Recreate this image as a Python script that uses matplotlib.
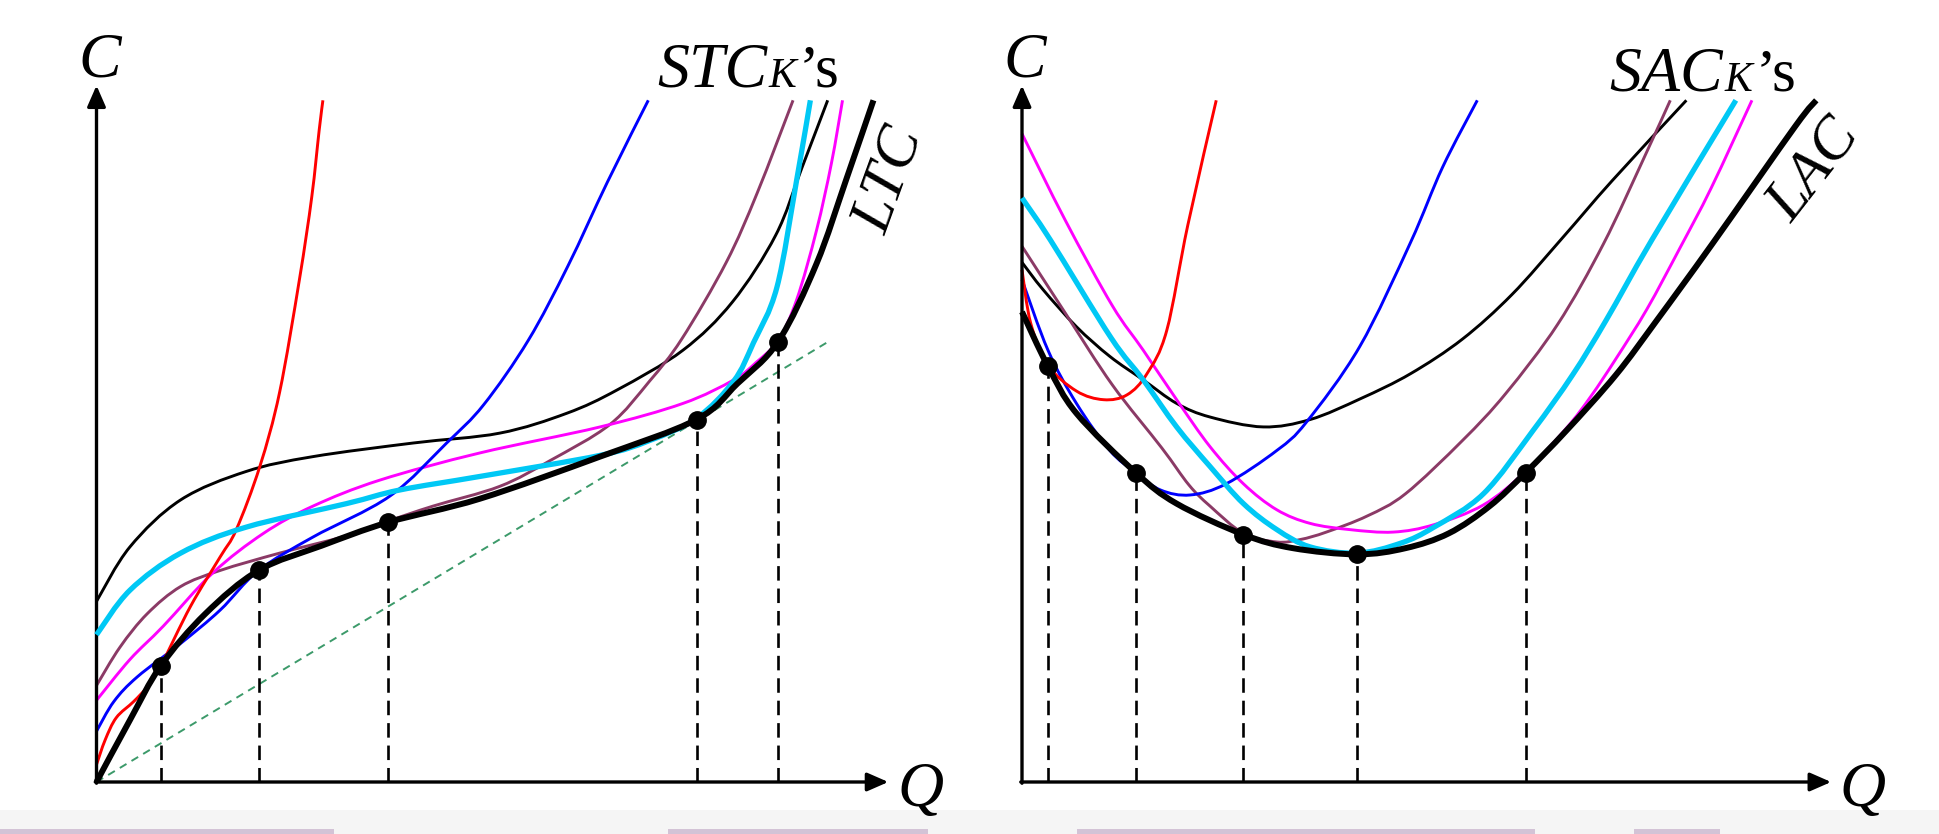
import numpy as np
import matplotlib
matplotlib.use('Agg')
import matplotlib.pyplot as plt
from matplotlib.path import Path
from matplotlib.patches import PathPatch, Rectangle

# ---- data (Q, C) ----
# left panel: short-run total cost curves and the long-run envelope
ltc_q = [0, 2.7, 5.2, 8.8, 13.1, 18.2, 23.6, 31.0, 40.7, 48.5, 51.8, 55.1, 58.2, 60.6, 62.8]
ltc_c = [0, 5.0, 9.4, 13.6, 17.1, 19.1, 21.0, 22.9, 26.3, 29.3, 32.2, 35.6, 41.9, 48.7, 55.1]

stc_red_q = [0, 0.7, 1.6, 3.0, 4.1, 5.2, 7.6, 10.0, 11.3, 13.2, 14.8, 16.4, 17.4, 18.0, 18.3]
stc_red_c = [1.4, 3.4, 5.2, 6.5, 7.7, 9.4, 14.2, 18.2, 20.4, 25.5, 31.5, 40.6, 47.3, 52.7, 55.1]

stc_blue_q = [0, 1.4, 3.3, 6.8, 10.0, 13.1, 17.5, 23.7, 28.3, 31.3, 34.9, 38.1, 41.3, 44.6]
stc_blue_c = [4.1, 6.5, 8.5, 11.2, 13.9, 17.1, 19.8, 23.1, 27.4, 30.5, 35.7, 41.7, 48.5, 55.1]

stc_purple_q = [0, 1.9, 4.1, 6.8, 10.0, 14.8, 20.2, 23.6, 27.2, 32.6, 36.7, 41.5, 44.7, 47.3, 50.9, 53.4, 56.3]
stc_purple_c = [7.8, 10.9, 13.6, 15.8, 17.1, 18.5, 19.9, 21.1, 22.3, 23.9, 26.0, 28.9, 32.4, 35.8, 42.0, 47.6, 55.1]

stc_magenta_q = [0, 2.7, 5.4, 9.4, 13.5, 17.5, 22.9, 31.0, 40.7, 47.4, 51.5, 53.3, 55.1, 56.6, 58.2, 59.4, 60.3]
stc_magenta_c = [6.6, 9.9, 12.6, 16.9, 20.1, 22.3, 24.4, 26.6, 28.7, 30.6, 32.5, 33.9, 35.7, 39.0, 44.6, 50.0, 55.1]

stc_cyan_q = [0, 2.7, 6.8, 12.1, 20.2, 24.5, 31.0, 40.7, 44.7, 48.5, 51.5, 53.1, 55.0, 56.6, 57.7]
stc_cyan_c = [11.9, 15.5, 18.5, 20.6, 22.5, 23.6, 24.7, 26.4, 27.6, 29.4, 32.4, 35.5, 40.0, 48.7, 55.1]

stc_black_q = [0, 2.7, 6.8, 12.1, 17.5, 25.6, 32.6, 38.0, 42.1, 47.4, 51.4, 54.9, 57.0, 59.1]
stc_black_c = [14.6, 19.0, 22.8, 25.1, 26.3, 27.4, 28.2, 29.8, 31.7, 34.9, 38.8, 44.2, 49.6, 55.1]

ray_q = [0, 59.0]
ray_c = [0, 35.5]

ltc_dot_q = [5.2, 13.1, 23.6, 48.5, 55.1]
ltc_dot_c = [9.4, 17.1, 21.0, 29.3, 35.6]

# right panel: short-run average cost curves and the long-run envelope
lac_q = [0, 2.1, 4.4, 9.2, 12.5, 17.9, 21.9, 27.1, 31.0, 34.5, 37.8, 40.7, 44.0, 48.0, 51.3, 55.8, 62.5, 64.2]
lac_c = [38.0, 33.6, 29.8, 25.0, 22.5, 20.0, 18.9, 18.4, 18.9, 20.1, 22.3, 25.0, 28.4, 32.9, 37.3, 43.5, 53.0, 55.1]

sac_red_q = [0, 0.7, 2.1, 4.4, 6.6, 8.5, 10.1, 11.7, 13.4, 15.7]
sac_red_c = [41.4, 37.1, 33.7, 31.6, 30.9, 31.3, 33.0, 36.5, 45.0, 55.1]

sac_blue_q = [0, 2.1, 4.4, 7.1, 9.2, 11.2, 13.6, 16.5, 20.6, 23.0, 27.3, 31.4, 34.0, 36.8]
sac_blue_c = [40.6, 34.9, 30.6, 26.8, 25.0, 23.6, 23.2, 24.1, 26.8, 29.1, 35.2, 43.6, 49.7, 55.1]

sac_purple_q = [0, 3.5, 7.3, 11.3, 13.5, 15.2, 17.9, 20.6, 22.5, 24.6, 27.9, 31.0, 35.6, 39.1, 43.3, 47.0, 50.3, 52.4]
sac_purple_c = [43.3, 37.9, 32.1, 27.0, 24.0, 22.3, 20.1, 19.4, 19.6, 20.2, 21.5, 23.3, 27.6, 31.4, 37.0, 43.5, 50.5, 55.1]

sac_cyan_q = [0, 2.3, 7.2, 9.8, 12.5, 15.2, 17.9, 20.6, 23.3, 27.1, 30.6, 33.3, 37.3, 41.3, 44.5, 47.2, 50.9, 57.7]
sac_cyan_c = [47.2, 43.8, 35.9, 32.5, 28.7, 25.5, 22.5, 20.4, 19.0, 18.5, 19.3, 20.6, 23.3, 28.4, 32.9, 37.3, 43.8, 55.1]

sac_magenta_q = [0, 3.5, 7.3, 9.8, 12.5, 15.2, 17.9, 20.6, 23.3, 26.5, 30.0, 33.3, 37.3, 40.7, 44.0, 46.0, 48.0, 50.5, 53.2, 55.7, 59.0]
sac_magenta_c = [52.4, 45.4, 38.5, 34.9, 30.9, 27.1, 24.1, 22.0, 20.9, 20.4, 20.2, 20.8, 22.4, 25.1, 28.6, 31.2, 34.2, 38.2, 43.2, 48.0, 55.1]

sac_black_q = [0, 1.7, 4.4, 7.1, 9.8, 12.5, 15.2, 19.5, 23.3, 27.4, 31.4, 35.6, 39.6, 43.7, 47.7, 53.7]
sac_black_c = [42.0, 39.8, 36.8, 34.4, 32.5, 30.6, 29.5, 28.7, 29.3, 31.0, 33.0, 35.8, 39.4, 44.0, 48.6, 55.1]

lac_dot_q = [2.1, 9.2, 17.9, 27.1, 40.7]
lac_dot_c = [33.6, 25.0, 20.0, 18.4, 25.0]

RED = '#ff0000'
BLUE = '#0000ff'
PURPLE = '#8b3a66'
MAGENTA = '#ff00ff'
CYAN = '#00c8f5'
GREEN = '#3c9a6a'
SERIF = 'Liberation Serif'
THIN = 2.1


def smooth(ax, q, c, **kw):
    # catmull-rom through the read points, drawn as bezier segments
    pts = np.column_stack([q, c]).astype(float)
    n = len(pts)
    verts = [pts[0]]
    codes = [Path.MOVETO]
    for i in range(n - 1):
        p0 = pts[i - 1] if i > 0 else pts[i]
        p1, p2 = pts[i], pts[i + 1]
        p3 = pts[i + 2] if i + 2 < n else pts[i + 1]
        verts += [p1 + (p2 - p0) / 6, p2 - (p3 - p1) / 6, p2]
        codes += [Path.CURVE4] * 3
    ax.add_patch(PathPatch(Path(verts, codes), fill=False, capstyle='butt',
                           joinstyle='round', **kw))


def axes_arrows(ax, qmax, cmax):
    arr = dict(arrowstyle='-|>,head_length=0.8,head_width=0.35', lw=2.4, color='k',
               mutation_scale=16, shrinkA=0, shrinkB=0)
    ax.annotate('', xy=(qmax, 0), xytext=(-0.1, 0), arrowprops=arr)
    ax.annotate('', xy=(0, cmax), xytext=(0, -0.1), arrowprops=arr)


def family_label(ax, q, c, main):
    t1 = ax.text(q, c, main, fontsize=46, style='italic', family=SERIF, va='baseline')
    t2 = ax.annotate('K', xy=(1, 0), xycoords=t1, xytext=(1, 3.5),
                     textcoords='offset points', fontsize=30, style='italic',
                     family=SERIF, va='bottom', ha='left')
    ax.annotate('\u2019s', xy=(1, 0), xycoords=t2, xytext=(2, -3),
                textcoords='offset points', fontsize=44, family=SERIF,
                va='bottom', ha='left')


W, H = 1940, 834
U = 12.372  # pixels per data unit
fig = plt.figure(figsize=(W / 100, H / 100), dpi=100)

# panel origins in pixels (x from left, y from top)
panels = [(96.5, 782, 0, 970), (1022, 782, 970, 1940)]
axs = []
for ox, oy, x0, x1 in panels:
    ax = fig.add_axes([x0 / W, 0, (x1 - x0) / W, 1])
    ax.set_xlim((x0 - ox) / U, (x1 - ox) / U)
    ax.set_ylim((oy - H) / U, oy / U)
    ax.axis('off')
    axs.append(ax)

# ---------------- left: total cost ----------------
ax = axs[0]
ax.plot(ray_q, ray_c, color=GREEN, lw=1.4, ls=(0, (4, 3)), zorder=2)
ax.vlines(ltc_dot_q, 0, ltc_dot_c, colors='k', lw=1.9, linestyles=(0, (5.5, 3)), zorder=2)
smooth(ax, stc_black_q, stc_black_c, color='k', lw=THIN, zorder=3)
smooth(ax, stc_purple_q, stc_purple_c, color=PURPLE, lw=THIN, zorder=3)
smooth(ax, stc_magenta_q, stc_magenta_c, color=MAGENTA, lw=THIN, zorder=3)
smooth(ax, stc_blue_q, stc_blue_c, color=BLUE, lw=THIN, zorder=3)
smooth(ax, stc_red_q, stc_red_c, color=RED, lw=THIN, zorder=3)
smooth(ax, stc_cyan_q, stc_cyan_c, color=CYAN, lw=3.8, zorder=4)
smooth(ax, ltc_q, ltc_c, color='k', lw=4.3, zorder=5)
ax.plot(ltc_dot_q, ltc_dot_c, 'o', color='k', ms=12.5, zorder=6)
axes_arrows(ax, 64.0, 56.3)

ax.text(0.3, 57.0, 'C', fontsize=46, style='italic', family=SERIF, ha='center', va='baseline')
ax.text(66.6, -1.9, 'Q', fontsize=46, style='italic', family=SERIF, ha='center', va='baseline')
ax.text(64.1, 48.6, 'LTC', fontsize=44, style='italic', family=SERIF, rotation=70,
        rotation_mode='anchor', ha='center', va='center')
family_label(ax, 45.3, 56.2, 'STC')

# ---------------- right: average cost ----------------
ax = axs[1]
ax.vlines(lac_dot_q, 0, lac_dot_c, colors='k', lw=1.9, linestyles=(0, (5.5, 3)), zorder=2)
smooth(ax, sac_black_q, sac_black_c, color='k', lw=THIN, zorder=3)
smooth(ax, sac_purple_q, sac_purple_c, color=PURPLE, lw=THIN, zorder=3)
smooth(ax, sac_magenta_q, sac_magenta_c, color=MAGENTA, lw=THIN, zorder=3)
smooth(ax, sac_blue_q, sac_blue_c, color=BLUE, lw=THIN, zorder=3)
smooth(ax, sac_red_q, sac_red_c, color=RED, lw=THIN, zorder=3)
smooth(ax, sac_cyan_q, sac_cyan_c, color=CYAN, lw=3.8, zorder=4)
smooth(ax, lac_q, lac_c, color='k', lw=4.3, zorder=5)
ax.plot(lac_dot_q, lac_dot_c, 'o', color='k', ms=12.5, zorder=6)
axes_arrows(ax, 65.4, 56.3)

ax.text(0.2, 57.0, 'C', fontsize=46, style='italic', family=SERIF, ha='center', va='baseline')
ax.text(67.9, -1.9, 'Q', fontsize=46, style='italic', family=SERIF, ha='center', va='baseline')
ax.text(64.0, 49.4, 'LAC', fontsize=44, style='italic', family=SERIF, rotation=52,
        rotation_mode='anchor', ha='center', va='center')
family_label(ax, 47.5, 55.9, 'SAC')

# light strip along the bottom edge, with the faint smudges of the next slide
fig.patches.append(Rectangle((0, 0), 1, 24 / H, transform=fig.transFigure,
                             facecolor='#f5f5f5', edgecolor='none', zorder=-1))
for x0, x1 in [(0, 334), (668, 928), (1077, 1535), (1634, 1720)]:
    fig.patches.append(Rectangle((x0 / W, 0), (x1 - x0) / W, 5 / H,
                                 transform=fig.transFigure, facecolor='#a07aa8',
                                 alpha=0.4, edgecolor='none', zorder=-1))

fig.savefig('out.png', dpi=100)
